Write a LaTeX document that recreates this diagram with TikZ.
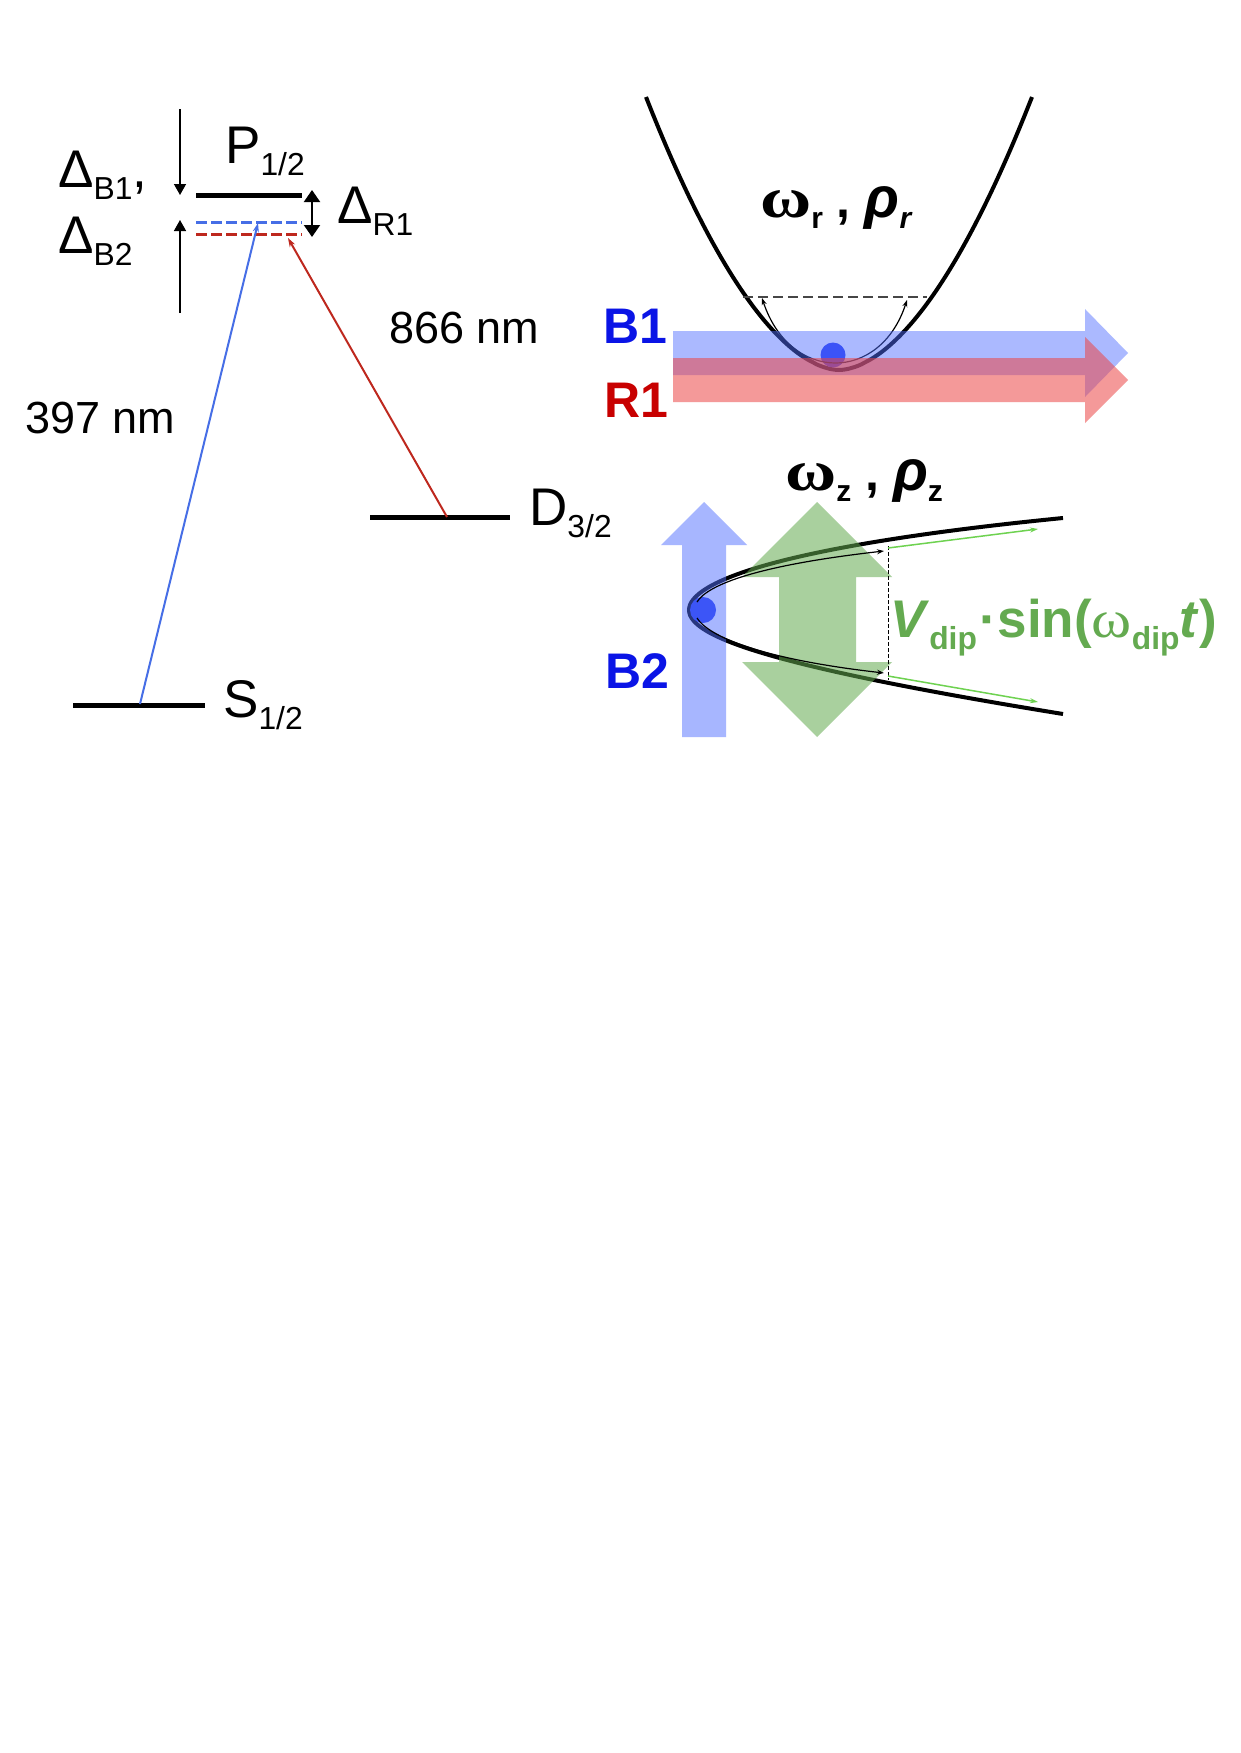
\documentclass[tikz,border=0pt]{standalone}
\usepackage{graphicx}
\usepackage{fontspec}
\setmainfont{Liberation Sans}
\newfontfamily\grserif{Liberation Serif}
\usetikzlibrary{arrows.meta}
\definecolor{lineblue}{RGB}{70,110,230}
\definecolor{linered}{RGB}{190,40,30}
\definecolor{beamblue}{RGB}{80,110,255}
\definecolor{beamred}{RGB}{235,70,70}
\definecolor{beamgreen}{RGB}{100,170,80}
\definecolor{txtblue}{RGB}{10,20,230}
\definecolor{txtred}{RGB}{200,0,0}
\definecolor{txtgreen}{RGB}{100,170,80}
\definecolor{ionblue}{RGB}{40,60,240}
\definecolor{arrgreen}{RGB}{110,210,80}
\definecolor{dashgrey}{RGB}{70,70,70}
\newcommand{\sbs}[1]{\raisebox{-0.23em}{\scalebox{0.6}{#1}}}
\newcommand{\bigomega}{{\grserif\bfseries\scalebox{1.4}[1.15]{ω}}}
\newcommand{\bigrho}{{\bfseries\itshape\scalebox{1.15}{ρ}}}
\begin{document}
\begin{tikzpicture}[x=1pt,y=-1pt,
  lbl/.style={inner sep=0, anchor=base west, font=\fontsize{53}{60}\selectfont},
  nmlbl/.style={inner sep=0, anchor=base west, font=\fontsize{45}{54}\selectfont},
  beamlbl/.style={inner sep=0, anchor=base west, font=\fontsize{50}{60}\selectfont\bfseries},
  greeklbl/.style={inner sep=0, anchor=base west, font=\fontsize{50}{60}\selectfont\bfseries},
  level/.style={line width=5pt},
  sublevel/.style={line width=3pt, dash pattern=on 11pt off 4pt},
  detarrow/.style={line width=1.5pt, -{Triangle[width=12pt,length=11pt]}},
  transition/.style={line width=2pt, -{Stealth[length=9pt,width=6pt]}},
  trap/.style={line width=4pt},
  thinarrow/.style={line width=1.2pt, -{Stealth[length=7pt,width=5pt]}},
  greenarrow/.style={arrgreen, line width=1.5pt, -{Stealth[length=8pt,width=5pt]}}]
\useasboundingbox (0,0) rectangle (1240,1753);
\fill[white] (0,0) rectangle (1240,1753);

% ---------- level scheme ----------
\coordinate (Pa) at (196,195);  \coordinate (Pb) at (302,195);
\coordinate (Ba) at (196,222);  \coordinate (Bb) at (302,222);
\coordinate (Ra) at (196,234);  \coordinate (Rb) at (302,234);
\coordinate (Da) at (370,517);  \coordinate (Db) at (510,517);
\coordinate (Sa) at (73,705);   \coordinate (Sb) at (205,705);
\draw[level] (Pa) -- (Pb);
\draw[level] (Da) -- (Db);
\draw[level] (Sa) -- (Sb);
\draw[sublevel, lineblue] (Ba) -- (Bb);
\draw[sublevel, linered] (Ra) -- (Rb);

\coordinate (dnA) at (180,109); \coordinate (dnB) at (180,195);
\coordinate (upA) at (180,313); \coordinate (upB) at (180,220);
\draw[detarrow] (dnA) -- (dnB);
\draw[detarrow] (upA) -- (upB);
\coordinate (rA) at (312,190); \coordinate (rB) at (312,237);
\draw[line width=2pt, {Triangle[width=16pt,length=12pt]}-{Triangle[width=16pt,length=12pt]}] (rA) -- (rB);

\coordinate (s397) at (140,704); \coordinate (p397) at (258,223);
\coordinate (d866) at (447,517); \coordinate (p866) at (288,238);
\draw[transition, lineblue] (s397) -- (p397);
\draw[transition, linered] (d866) -- (p866);

\node[lbl] (dB1) at (58,187) {Δ\sbs{B1},};
\node[lbl] (dB2) at (58,253) {Δ\sbs{B2}};
\node[lbl] (P) at (225,163) {P\sbs{1/2}};
\node[lbl] (dR1) at (337,223) {Δ\sbs{R1}};
\node[lbl] (D) at (529,525) {D\sbs{3/2}};
\node[lbl] (S) at (223,717) {S\sbs{1/2}};
\node[nmlbl] (n397) at (25,433) {397 nm};
\node[nmlbl] (n866) at (389,343) {866 nm};

% ---------- radial trap ----------
\draw[trap] plot[domain=-193:193, samples=121] ({839+\x},{370-273*pow(abs(\x)/193,1.8)});
\fill[ionblue] (833,355) circle (12.5);
\coordinate (rl) at (762,298); \coordinate (rr) at (907,300);
\coordinate (dl) at (743,297); \coordinate (dr) at (927,297);
\draw[dashgrey, line width=2pt, dash pattern=on 10pt off 5pt] (dl) -- (dr);
\draw[line width=1.2pt, {Stealth[length=7pt,width=5pt]}-{Stealth[length=7pt,width=5pt]}] (rl) .. controls (790,383) and (880,383) .. (rr);
\fill[beamblue, opacity=0.48] (673,331) -- (1085,331) -- (1085,309) -- (1128,353) -- (1085,397) -- (1085,375) -- (673,375) -- cycle;
\fill[beamred, opacity=0.55] (673,358) -- (1085,358) -- (1085,337) -- (1128,380) -- (1085,423) -- (1085,402) -- (673,402) -- cycle;
\node[greeklbl] (wr) at (760,217) {\bigomega\sbs{r} , \bigrho\sbs{\itshape r}};
\node[beamlbl, txtblue] (B1) at (603,343) {B1};
\node[beamlbl, txtred] (R1) at (604,417) {R1};

% ---------- axial trap ----------
\coordinate (vx) at (689,610);
\coordinate (ua) at (1063,518); \coordinate (la) at (1063,714);
\draw[trap] (ua) .. controls (780,546) and (689,582) .. (vx) .. controls (689,638) and (780,668) .. (la);
\fill[ionblue] (703,610) circle (13);
\fill[beamblue, opacity=0.5] (682,737) -- (682,545) -- (661,545) -- (704,502) -- (747,545) -- (726,545) -- (726,737) -- cycle;
\fill[beamgreen, opacity=0.55] (817,502) -- (892,577) -- (856,577) -- (856,662) -- (892,662) -- (817,737) -- (742,662) -- (779,662) -- (779,577) -- (742,577) -- cycle;
\coordinate (ut) at (884,551); \coordinate (lt) at (884,673);
\draw[thinarrow] (697,602) .. controls (708,584) and (760,565) .. (ut);
\draw[thinarrow] (697,618) .. controls (708,636) and (760,659) .. (lt);
\coordinate (vd1) at (888,546); \coordinate (vd2) at (888,680);
\draw[line width=1pt, dash pattern=on 4pt off 2pt] (vd1) -- (vd2);
\coordinate (gu) at (1038,529); \coordinate (gl) at (1038,702);
\draw[greenarrow] (888,548) -- (gu);
\draw[greenarrow] (888,676) -- (gl);
\node[greeklbl] (wz) at (785,490) {\bigomega\sbs{z} , \bigrho\sbs{z}};
\node[beamlbl, txtblue] (B2) at (605,688) {B2};
\node[inner sep=0, anchor=base west, font=\fontsize{53}{60}\selectfont\bfseries, txtgreen] (vdip) at (890,637) {\textit{V}\sbs{dip}\hspace{3pt}·sin({\grserif\mdseries\scalebox{1.15}[1]{ω}}\sbs{dip}\textit{t})};
\end{tikzpicture}
\end{document}
